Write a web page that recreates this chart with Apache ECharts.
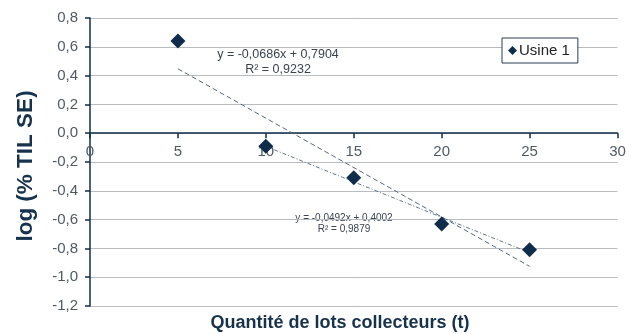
<!DOCTYPE html>
<html>
<head>
<meta charset="utf-8">
<script src="https://cdn.jsdelivr.net/npm/echarts@6/dist/echarts.min.js"></script>
<style>
  html, body { margin: 0; padding: 0; background: #fff; }
  #chart { width: 635px; height: 334px; }
</style>
</head>
<body>
<div id="chart"></div>
<script>
// Measurements: lot quantity (t) vs log(% TIL SE)
var seriesName = 'Usine 1';
var lotQuantity = [5, 10, 15, 20, 25];
var logTil = [0.64, -0.09, -0.31, -0.63, -0.81];

// Linear trend lines: [slope, intercept, xStart, xEnd]
var trendAll = [-0.0686, 0.7904, 5, 25];
var trendLate = [-0.0492, 0.4002, 10, 25];
var trendAllLabel = ['y = -0,0686x + 0,7904', 'R² = 0,9232'];
var trendLateLabel = ['y = -0,0492x + 0,4002', 'R² = 0,9879'];

var xTitle = 'Quantité de lots collecteurs (t)';
var yTitle = 'log (% TIL SE)';

var yMin = -1.2, yMax = 0.8;
var gridTop = 18, gridBottom = 28, chartHeight = 334;

function trendPoints(t) {
  return [[t[2], t[0] * t[2] + t[1]], [t[3], t[0] * t[3] + t[1]]];
}
function commaFmt(v) {
  return v.toFixed(1).replace('.', ',').replace('-0,0', '0,0');
}

// the x axis crosses the y axis at 0: lift it from the bottom edge by that distance
var plotH = chartHeight - gridTop - gridBottom;
var zeroOffset = plotH * (0 - yMin) / (yMax - yMin);

var navy = '#0f2d4a';
var font = '"Liberation Sans", Arial, sans-serif';

var chart = echarts.init(document.getElementById('chart'), null, { renderer: 'canvas' });
chart.setOption({
  animation: false,
  backgroundColor: '#ffffff',
  grid: { left: 90, right: 17.5, top: gridTop, bottom: gridBottom, containLabel: false, outerBoundsMode: 'none' },
  legend: {
    data: [{ name: seriesName, icon: 'diamond' }],
    left: 502, top: 38,
    padding: [5, 8, 5, 6],
    itemWidth: 9, itemHeight: 9, itemGap: 0,
    backgroundColor: '#ffffff',
    borderColor: '#2c3e52', borderWidth: 1,
    textStyle: { fontFamily: font, fontSize: 15, color: '#222', padding: [0, 0, 0, -3] }
  },
  xAxis: {
    type: 'value', min: 0, max: 30, interval: 5,
    position: 'bottom', offset: -zeroOffset,
    axisLine: { onZero: false, lineStyle: { color: navy, width: 1.5 } },
    axisTick: { show: true, inside: false, length: 5, lineStyle: { color: navy, width: 1.5 } },
    axisLabel: { fontFamily: font, fontSize: 15, color: '#505a64', margin: 11 },
    splitLine: { show: false }
  },
  yAxis: {
    type: 'value', min: yMin, max: yMax, interval: 0.2,
    axisLine: { show: true, lineStyle: { color: navy, width: 1.5 } },
    axisTick: { show: true, length: 5, lineStyle: { color: navy, width: 1.5 } },
    axisLabel: { fontFamily: font, fontSize: 15, color: '#505a64', margin: 12, formatter: commaFmt },
    splitLine: { show: true, lineStyle: { color: '#b8bcc0', width: 1 } }
  },
  series: [
    {
      name: 'trendAll', type: 'line', data: trendPoints(trendAll),
      showSymbol: false, silent: true, z: 3,
      lineStyle: { color: '#56677a', width: 1, type: [5, 3] }
    },
    {
      name: 'trendLate', type: 'line', data: trendPoints(trendLate),
      showSymbol: false, silent: true, z: 3,
      lineStyle: { color: '#66768a', width: 1, type: [4, 2, 1, 2] }
    },
    {
      name: seriesName, type: 'scatter', symbol: 'diamond', symbolSize: 15, z: 5,
      itemStyle: { color: navy, opacity: 1 },
      data: lotQuantity.map(function (x, i) { return [x, logTil[i]]; })
    }
  ],
  graphic: [
    { type: 'text', x: 278, y: 55, style: { text: trendAllLabel[0], fontFamily: font, fontSize: 12.5, fill: '#3a4450', textAlign: 'center', textVerticalAlign: 'middle' } },
    { type: 'text', x: 278, y: 70, style: { text: trendAllLabel[1], fontFamily: font, fontSize: 12.5, fill: '#3a4450', textAlign: 'center', textVerticalAlign: 'middle' } },
    { type: 'text', x: 344, y: 218, style: { text: trendLateLabel[0], fontFamily: font, fontSize: 10, fill: '#3a4450', textAlign: 'center', textVerticalAlign: 'middle' } },
    { type: 'text', x: 344, y: 229, style: { text: trendLateLabel[1], fontFamily: font, fontSize: 10, fill: '#3a4450', textAlign: 'center', textVerticalAlign: 'middle' } },
    { type: 'text', x: 340, y: 323, style: { text: xTitle, fontFamily: font, fontSize: 18, fontWeight: 'bold', fill: '#17324d', textAlign: 'center', textVerticalAlign: 'middle' } },
    { type: 'text', x: 26, y: 166, rotation: Math.PI / 2, style: { text: yTitle, fontFamily: font, fontSize: 22.5, fontWeight: 'bold', fill: '#17324d', textAlign: 'center', textVerticalAlign: 'middle' } }
  ]
});
</script>
</body>
</html>
